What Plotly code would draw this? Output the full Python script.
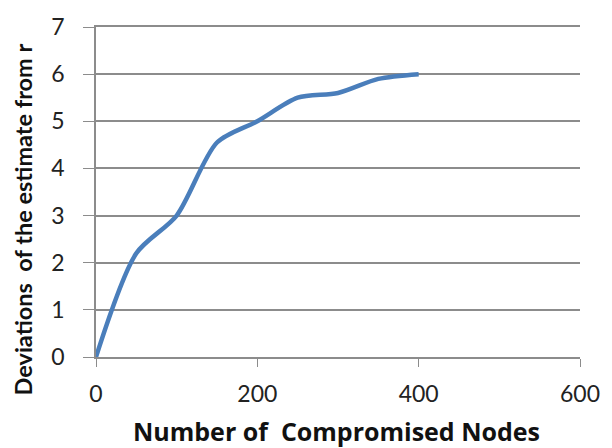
import plotly.graph_objects as go

# Deviation of the estimate versus number of compromised nodes
nodes = [0, 50, 100, 150, 200, 250, 300, 350, 400]
deviation = [0, 2.2, 3.0, 4.55, 5.0, 5.5, 5.6, 5.9, 6.0]
x_ticks = [0, 200, 400, 600]
y_ticks = [0, 1, 2, 3, 4, 5, 6, 7]

W, H = 612, 448
L, R, T, B = 96, 25, 26, 91
pw, ph = W - L - R, H - T - B

fig = go.Figure()
fig.add_trace(go.Scatter(
    x=nodes, y=deviation, mode="lines",
    line=dict(color="#4A7EBB", width=4.5, shape="spline", smoothing=0.8),
    showlegend=False,
))

font_main = "Lato, 'Open Sans', sans-serif"
fig.update_layout(
    width=W, height=H,
    margin=dict(l=L, r=R, t=T, b=B),
    paper_bgcolor="white", plot_bgcolor="white",
    font=dict(family=font_main, color="#222222"),
    xaxis=dict(
        range=[0, 600], tickvals=x_ticks, showgrid=False, zeroline=False,
        showline=True, mirror=True, linecolor="#8c8c8c", linewidth=1.5,
        ticks="outside", ticklen=8, tickcolor="#8c8c8c",
        tickfont=dict(size=23, color="#222222"), ticklabelstandoff=8,
    ),
    yaxis=dict(
        range=[0, 7], tickvals=y_ticks, showgrid=True, gridcolor="#8c8c8c", gridwidth=1.5,
        zeroline=False, showline=True, linecolor="#8c8c8c", linewidth=1.5,
        ticks="outside", ticklen=11, tickcolor="#8c8c8c",
        tickfont=dict(size=23, color="#222222"), ticklabelstandoff=14,
    ),
    annotations=[
        dict(text="<b>Number of  Compromised Nodes</b>", xref="paper", yref="paper",
             x=(340 - L) / pw, y=(H - B - 431) / ph, showarrow=False,
             font=dict(size=25, color="#111111", family="'Open Sans', sans-serif"),
             xanchor="center", yanchor="middle"),
        dict(text="<b>Deviations  of the estimate from r</b>", xref="paper", yref="paper",
             x=(22 - L) / pw, y=(H - B - 219) / ph, showarrow=False, textangle=-90,
             font=dict(size=23.5, color="#111111"), xanchor="center", yanchor="middle"),
    ],
)

fig.write_html("out.html")
